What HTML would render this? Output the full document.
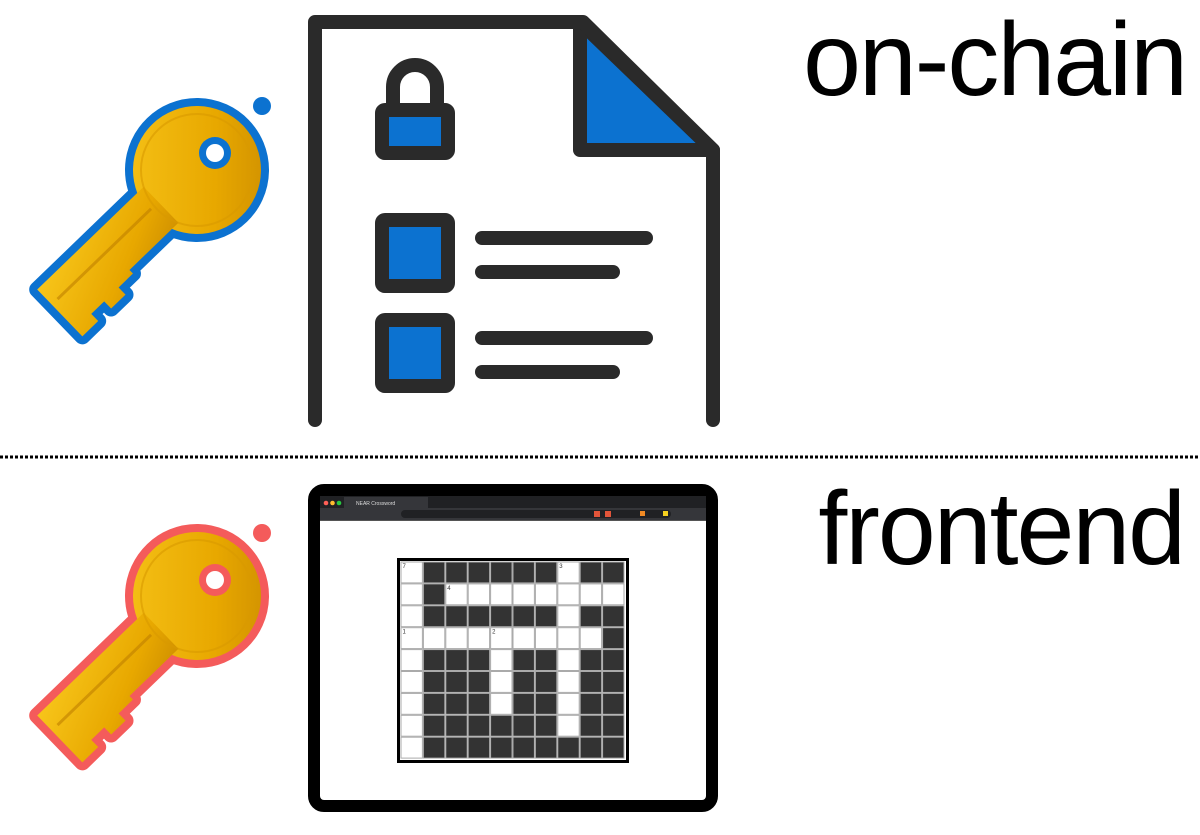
<!DOCTYPE html>
<html><head><meta charset="utf-8"><style>
html,body{margin:0;padding:0;background:#fff;}
body{width:1200px;height:835px;position:relative;overflow:hidden;font-family:"Liberation Sans",sans-serif;}
.t{position:absolute;font-size:104px;color:#000;line-height:1;letter-spacing:-2px;}
</style></head><body>
<svg width="1200" height="835" style="position:absolute;left:0;top:0">
<defs>
<linearGradient id="g" x1="0" y1="0" x2="1" y2="1">
<stop offset="0" stop-color="#f7c51a"/><stop offset="0.6" stop-color="#e8a800"/><stop offset="1" stop-color="#c98a00"/>
</linearGradient>
<g id="keyshape">
<circle cx="0" cy="0" r="64"/>
<polygon points="-50,-25 -198,-25 -198,40 -176,40 -176,30 -158,30 -158,40 -138,40 -138,30 -118,30 -118,25 -50,25"/>
</g>
</defs>
<g transform="translate(197,170) rotate(-44)">
<use href="#keyshape" fill="#0c72d0" stroke="#0c72d0" stroke-width="16" stroke-linejoin="round"/>
<use href="#keyshape" fill="url(#g)"/>
<circle cx="0" cy="0" r="56" fill="none" stroke="#d89a00" stroke-width="2" opacity="0.6"/>
<line x1="-60" y1="-4" x2="-190" y2="-4" stroke="#c08000" stroke-width="3" opacity="0.6"/>
</g>
<circle cx="215" cy="153" r="16" fill="#0c72d0"/><circle cx="215" cy="153" r="9" fill="#fff"/>
<circle cx="262" cy="106" r="9" fill="#0c72d0"/>
<g transform="translate(197,596) rotate(-44)">
<use href="#keyshape" fill="#f45b5b" stroke="#f45b5b" stroke-width="16" stroke-linejoin="round"/>
<use href="#keyshape" fill="url(#g)"/>
<circle cx="0" cy="0" r="56" fill="none" stroke="#d89a00" stroke-width="2" opacity="0.6"/>
<line x1="-60" y1="-4" x2="-190" y2="-4" stroke="#c08000" stroke-width="3" opacity="0.6"/>
</g>
<circle cx="215" cy="580" r="16" fill="#f45b5b"/><circle cx="215" cy="580" r="9" fill="#fff"/>
<circle cx="262" cy="533" r="9" fill="#f45b5b"/>

<g stroke="#2a2a2a" stroke-width="14" stroke-linecap="round" stroke-linejoin="round">
<polygon points="580,22 580,150 713,150" fill="#0c72d0"/>
<polyline points="315,420 315,22 583,22 713,150 713,420" fill="none"/>
<path d="M393,110 V87 A22,22 0 0 1 437,87 V110" fill="none"/>
<rect x="382" y="110" width="66" height="43" rx="3" fill="#0c72d0"/>
<rect x="382" y="220" width="66" height="66" rx="3" fill="#0c72d0"/>
<rect x="382" y="320" width="66" height="66" rx="3" fill="#0c72d0"/>
<line x1="482" y1="238" x2="646" y2="238"/>
<line x1="482" y1="272" x2="613" y2="272"/>
<line x1="482" y1="338" x2="646" y2="338"/>
<line x1="482" y1="372" x2="613" y2="372"/>
</g>

<line x1="0" y1="457" x2="1200" y2="457" stroke="#000" stroke-width="3" stroke-dasharray="3,2"/>

<rect x="314" y="490" width="398" height="316" rx="10" fill="#fff" stroke="#000" stroke-width="12"/>
<rect x="320" y="496" width="386" height="12" fill="#202124"/>
<rect x="344" y="497" width="84" height="11" fill="#35363a"/>
<text x="356" y="505" font-size="5" fill="#ddd" font-family="Liberation Sans">NEAR Crossword</text>
<circle cx="326" cy="503" r="2.3" fill="#ff5f57"/><circle cx="332.5" cy="503" r="2.3" fill="#febc2e"/><circle cx="339" cy="503" r="2.3" fill="#28c840"/>
<rect x="320" y="508" width="386" height="12" fill="#35363a"/>
<rect x="401" y="510" width="270" height="8" rx="4" fill="#202124"/>
<rect x="594" y="511" width="6" height="6" fill="#e2553a"/><rect x="605" y="511" width="6" height="6" fill="#e2553a"/>
<rect x="640" y="511" width="5" height="5" fill="#f08a24"/><rect x="663" y="511" width="5" height="5" fill="#f5d020"/>
<rect x="320" y="520" width="386" height="1" fill="#555"/>

<rect x="398.5" y="559.5" width="229" height="202" fill="#fff" stroke="#000" stroke-width="3"/>
<g id="grid" stroke="#aaa" stroke-width="1"></g>
</svg>
<div class="t" style="right:14px;top:8px;">on-chain</div>
<div class="t" style="right:16px;top:477px;">frontend</div>
<script>
var rows=["WBBBBBBWBB","WBWWWWWWWW","WBBBBBBWBB","WWWWWWWWWB","WBBBWBBWBB","WBBBWBBWBB","WBBBWBBWBB","WBBBBBBWBB","WBBBBBBBBB"];
var nums={"0,0":"7","0,7":"3","1,2":"4","3,0":"1","3,4":"2"};
var g=document.getElementById("grid"),ns="http://www.w3.org/2000/svg";
var x0=401,y0=562,cw=22.4,ch=21.9;
for(var r=0;r<9;r++)for(var c=0;c<10;c++){
var e=document.createElementNS(ns,"rect");
e.setAttribute("x",x0+c*cw);e.setAttribute("y",y0+r*ch);
e.setAttribute("width",cw-1);e.setAttribute("height",ch-1);
e.setAttribute("fill",rows[r][c]=="B"?"#333":"#fff");g.appendChild(e);
var k=r+","+c;if(nums[k]){var t=document.createElementNS(ns,"text");
t.setAttribute("x",x0+c*cw+1.5);t.setAttribute("y",y0+r*ch+6);t.setAttribute("font-size","6");
t.setAttribute("stroke","none");t.setAttribute("fill","#333");t.textContent=nums[k];g.appendChild(t);}
}
</script>
</body></html>
